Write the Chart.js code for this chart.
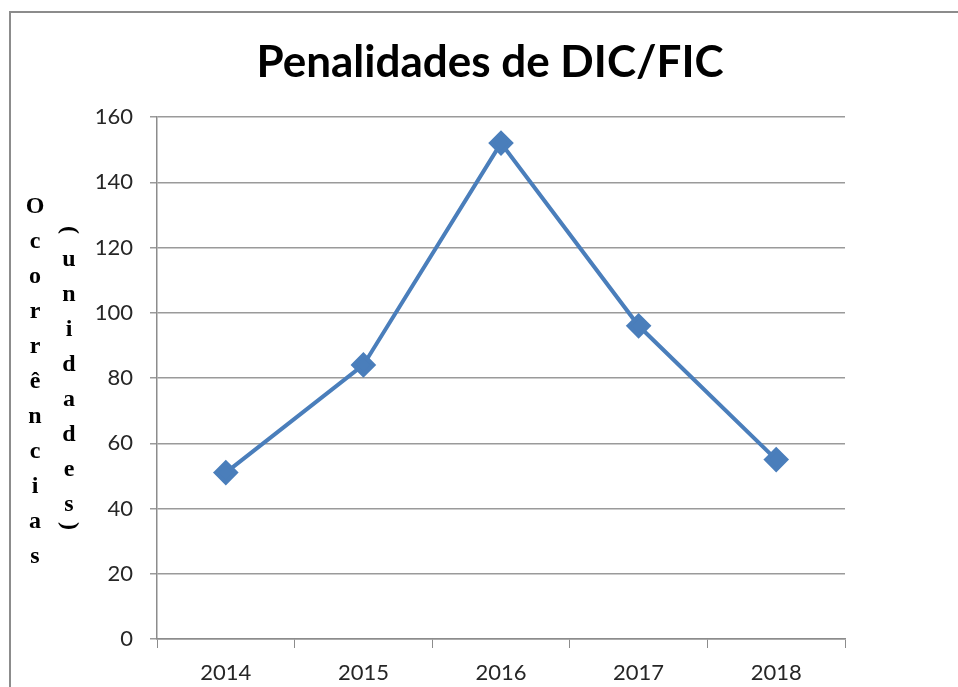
<!DOCTYPE html>
<html>
<head>
<meta charset="utf-8">
<script src="https://cdn.jsdelivr.net/npm/chart.js@4"></script>
<style>
  html, body { margin: 0; padding: 0; background: #fff; overflow: hidden; }
  #wrap { position: relative; width: 958px; height: 687px; }
  #frame { position: absolute; left: 9px; top: 11px; width: 1000px; height: 720px; border: 2px solid #8c8c8c; box-sizing: border-box; }
  canvas { position: absolute; left: 0; top: 0; }
</style>
</head>
<body>
<div id="wrap">
  <div id="frame"></div>
  <canvas id="line-chart" width="958" height="687"></canvas>
</div>
<script>
// data
const years = ["2014", "2015", "2016", "2017", "2018"];
const ocorrencias = [51, 84, 152, 96, 55];
const yTicks = [0, 20, 40, 60, 80, 100, 120, 140, 160];
const titleText = "Penalidades de DIC/FIC";
const yTitleMain = "Ocorrências";
const yTitleUnit = "(unidades)";

// chart title + stacked vertical letters for the y axis title
const extraText = {
    id: "extraText",
    afterDraw(chart) {
        const ctx = chart.ctx;
        ctx.save();
        ctx.fillStyle = "#000";
        ctx.textAlign = "center";
        ctx.textBaseline = "middle";

        ctx.font = "bold 44px Lato";
        ctx.fillText(titleText, 490, 63);

        ctx.font = "bold 24px 'Liberation Serif'";
        let y = 207;
        for (const ch of yTitleMain) {
            ctx.fillText(ch, 35, y);
            y += 35;
        }
        y = 228;
        [...yTitleUnit].forEach((ch) => {
            if (ch === "(" || ch === ")") {
                ctx.save();
                ctx.translate(69, ch === "(" ? y + 2 : y - 14);
                ctx.rotate(Math.PI / 2);
                ctx.fillText(ch, 0, 0);
                ctx.restore();
                y += ch === "(" ? 32 : 0;
            } else {
                ctx.fillText(ch, 69, y);
                y += 35;
            }
        });
        ctx.restore();
    },
};

new Chart(document.getElementById("line-chart"), {
    type: "line",
    data: {
        labels: years,
        datasets: [
            {
                data: ocorrencias,
                borderColor: "#4a7ebb",
                backgroundColor: "#4a7ebb",
                borderWidth: 4,
                pointStyle: "rectRot",
                pointRadius: 10,
                pointHoverRadius: 10,
                tension: 0,
            },
        ],
    },
    options: {
        responsive: false,
        animation: false,
        layout: { padding: { left: 0, right: 113, top: 117, bottom: 0 } },
        plugins: {
            legend: { display: false },
            tooltip: { enabled: false },
            title: { display: false },
        },
        scales: {
            x: {
                offset: true,
                grid: {
                    offset: true,
                    drawOnChartArea: false,
                    drawTicks: true,
                    tickLength: 9,
                    color: "#8c8c8c",
                },
                border: { color: "#8c8c8c", width: 1.5 },
                ticks: {
                    color: "#262626",
                    font: { family: "Lato", size: 22 },
                    padding: 12,
                    maxRotation: 0,
                },
                afterFit(scale) {
                    scale.height = 48;
                },
            },
            y: {
                min: 0,
                max: 160,
                afterBuildTicks(scale) {
                    scale.ticks = yTicks.map((v) => ({ value: v }));
                },
                grid: {
                    color: "#9a9a9a",
                    lineWidth: 1.5,
                    tickLength: 7,
                },
                border: { color: "#8c8c8c", width: 1.5 },
                ticks: {
                    color: "#262626",
                    font: { family: "Lato", size: 22 },
                    padding: 17,
                },
                afterFit(scale) {
                    scale.width = 157;
                },
            },
        },
    },
    plugins: [extraText],
});
</script>
</body>
</html>
